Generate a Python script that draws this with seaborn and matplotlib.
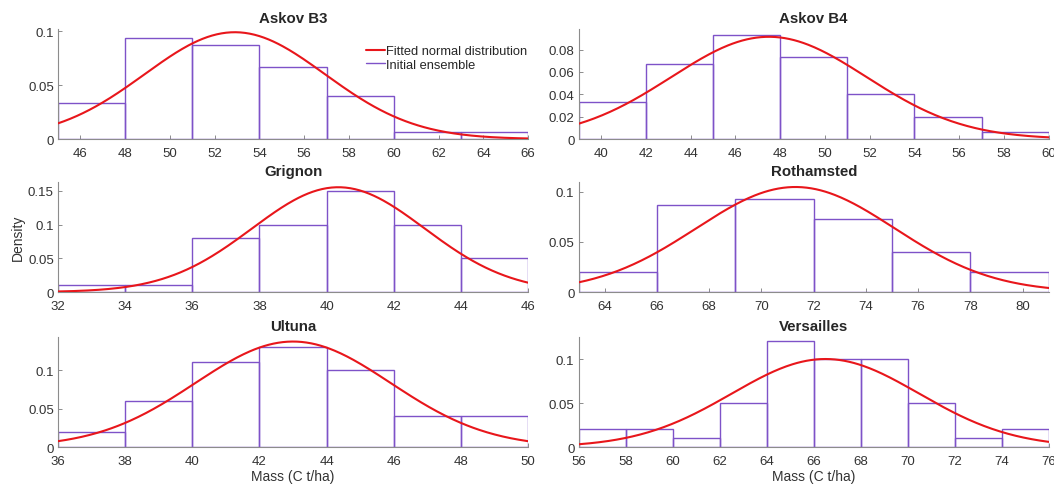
import numpy as np
import pandas as pd
import matplotlib
matplotlib.use("Agg")
import matplotlib.pyplot as plt
from matplotlib.lines import Line2D
from matplotlib.ticker import FormatStrFormatter, MultipleLocator
import seaborn as sns

# site names (panel order: row by row)
sites = ["Askov B3", "Askov B4", "Grignon", "Rothamsted", "Ultuna", "Versailles"]

# histogram bin edges and density heights
b3_edges = [45, 48, 51, 54, 57, 60, 63, 66]
b3_dens = [0.0333, 0.0933, 0.0867, 0.0667, 0.040, 0.0067, 0.0067]

b4_edges = [39, 42, 45, 48, 51, 54, 57, 60]
b4_dens = [0.0333, 0.0667, 0.0933, 0.0733, 0.040, 0.020, 0.0067]

grig_edges = [32, 34, 36, 38, 40, 42, 44, 46]
grig_dens = [0.010, 0.010, 0.080, 0.100, 0.150, 0.100, 0.050]

roth_edges = [63, 66, 69, 72, 75, 78, 81]
roth_dens = [0.020, 0.0867, 0.0933, 0.0733, 0.040, 0.020]

ult_edges = [36, 38, 40, 42, 44, 46, 48, 50]
ult_dens = [0.020, 0.060, 0.110, 0.130, 0.100, 0.040, 0.040]

vers_edges = [56, 58, 60, 62, 64, 66, 68, 70, 72, 74, 76]
vers_dens = [0.020, 0.020, 0.010, 0.050, 0.120, 0.100, 0.100, 0.050, 0.010, 0.020]

# fitted normal parameters (mean, sd) estimated from the red curves
fit_mu = [52.9, 47.5, 40.35, 71.3, 43.0, 66.5]
fit_sd = [4.03, 4.36, 2.57, 3.80, 2.91, 3.99]

all_edges = [b3_edges, b4_edges, grig_edges, roth_edges, ult_edges, vers_edges]
all_dens = [b3_dens, b4_dens, grig_dens, roth_dens, ult_dens, vers_dens]

# axis settings
ytops = [0.102, 0.0985, 0.163, 0.110, 0.143, 0.125]
ysteps = [0.05, 0.02, 0.05, 0.05, 0.05, 0.05]

RED = "#e8161b"
PURPLE = "#7e52c8"
GREY = "#8c8c8c"
TXT = "#333333"

sns.set_style("ticks")
plt.rcParams["font.family"] = ["Liberation Sans", "DejaVu Sans"]

fig = plt.figure(figsize=(10.54, 4.89), dpi=100)

lefts = [0.055, 0.549]
width = 0.446
bottoms = [0.7137, 0.4008, 0.0838]
height = 0.225

for i, site in enumerate(sites):
    r, c = divmod(i, 2)
    ax = fig.add_axes([lefts[c], bottoms[r], width, height])
    edges = [float(e) for e in all_edges[i]]
    dens = np.array(all_dens[i])
    widths = np.diff(edges)
    centers = np.array(edges[:-1]) + widths / 2
    hist_df = pd.DataFrame({"x": centers, "w": dens * widths})

    xs = np.linspace(edges[0], edges[-1], 300)
    mu, sd = fit_mu[i], fit_sd[i]
    pdf = np.exp(-0.5 * ((xs - mu) / sd) ** 2) / (sd * np.sqrt(2 * np.pi))

    sns.histplot(data=hist_df, x="x", weights="w", bins=edges, stat="density",
                 fill=False, color=PURPLE, linewidth=1.0, ax=ax, zorder=2)
    sns.lineplot(x=xs, y=pdf, ax=ax, color=RED, linewidth=1.5,
                 sort=False, zorder=3)

    ax.set_xlim(edges[0], edges[-1])
    ax.set_ylim(0, ytops[i])
    ax.xaxis.set_major_locator(MultipleLocator(2))
    ax.yaxis.set_major_locator(MultipleLocator(ysteps[i]))
    ax.yaxis.set_major_formatter(FormatStrFormatter("%g"))
    ax.set_title(site, fontsize=10.8, fontweight="bold", pad=5)
    ax.tick_params(direction="in", length=3, width=0.7, color=GREY,
                   labelsize=9.5, labelcolor=TXT)
    ax.tick_params(axis="x", pad=6)
    ax.tick_params(axis="y", pad=3)
    for s in ["top", "right"]:
        ax.spines[s].set_visible(False)
    for s in ["left", "bottom"]:
        ax.spines[s].set_color(GREY)
        ax.spines[s].set_linewidth(0.8)
    ax.set_xlabel("")
    ax.set_ylabel("")
    if i == 2:
        ax.set_ylabel("Density", fontsize=10, color=TXT, labelpad=2)
    if r == 2:
        ax.set_xlabel("Mass (C t/ha)", fontsize=10, color=TXT, labelpad=1)
    if i == 0:
        handles = [Line2D([], [], color=RED, linewidth=1.5),
                   Line2D([], [], color=PURPLE, linewidth=1.0)]
        labels = ["Fitted normal distribution", "Initial ensemble"]
        ax.legend(handles, labels, loc="upper right", frameon=False,
                  fontsize=9.3, handlelength=1.4, handletextpad=0.15,
                  labelspacing=0.1, borderaxespad=0.0,
                  bbox_to_anchor=(1.01, 0.9))

fig.savefig("out.png", dpi=100)
